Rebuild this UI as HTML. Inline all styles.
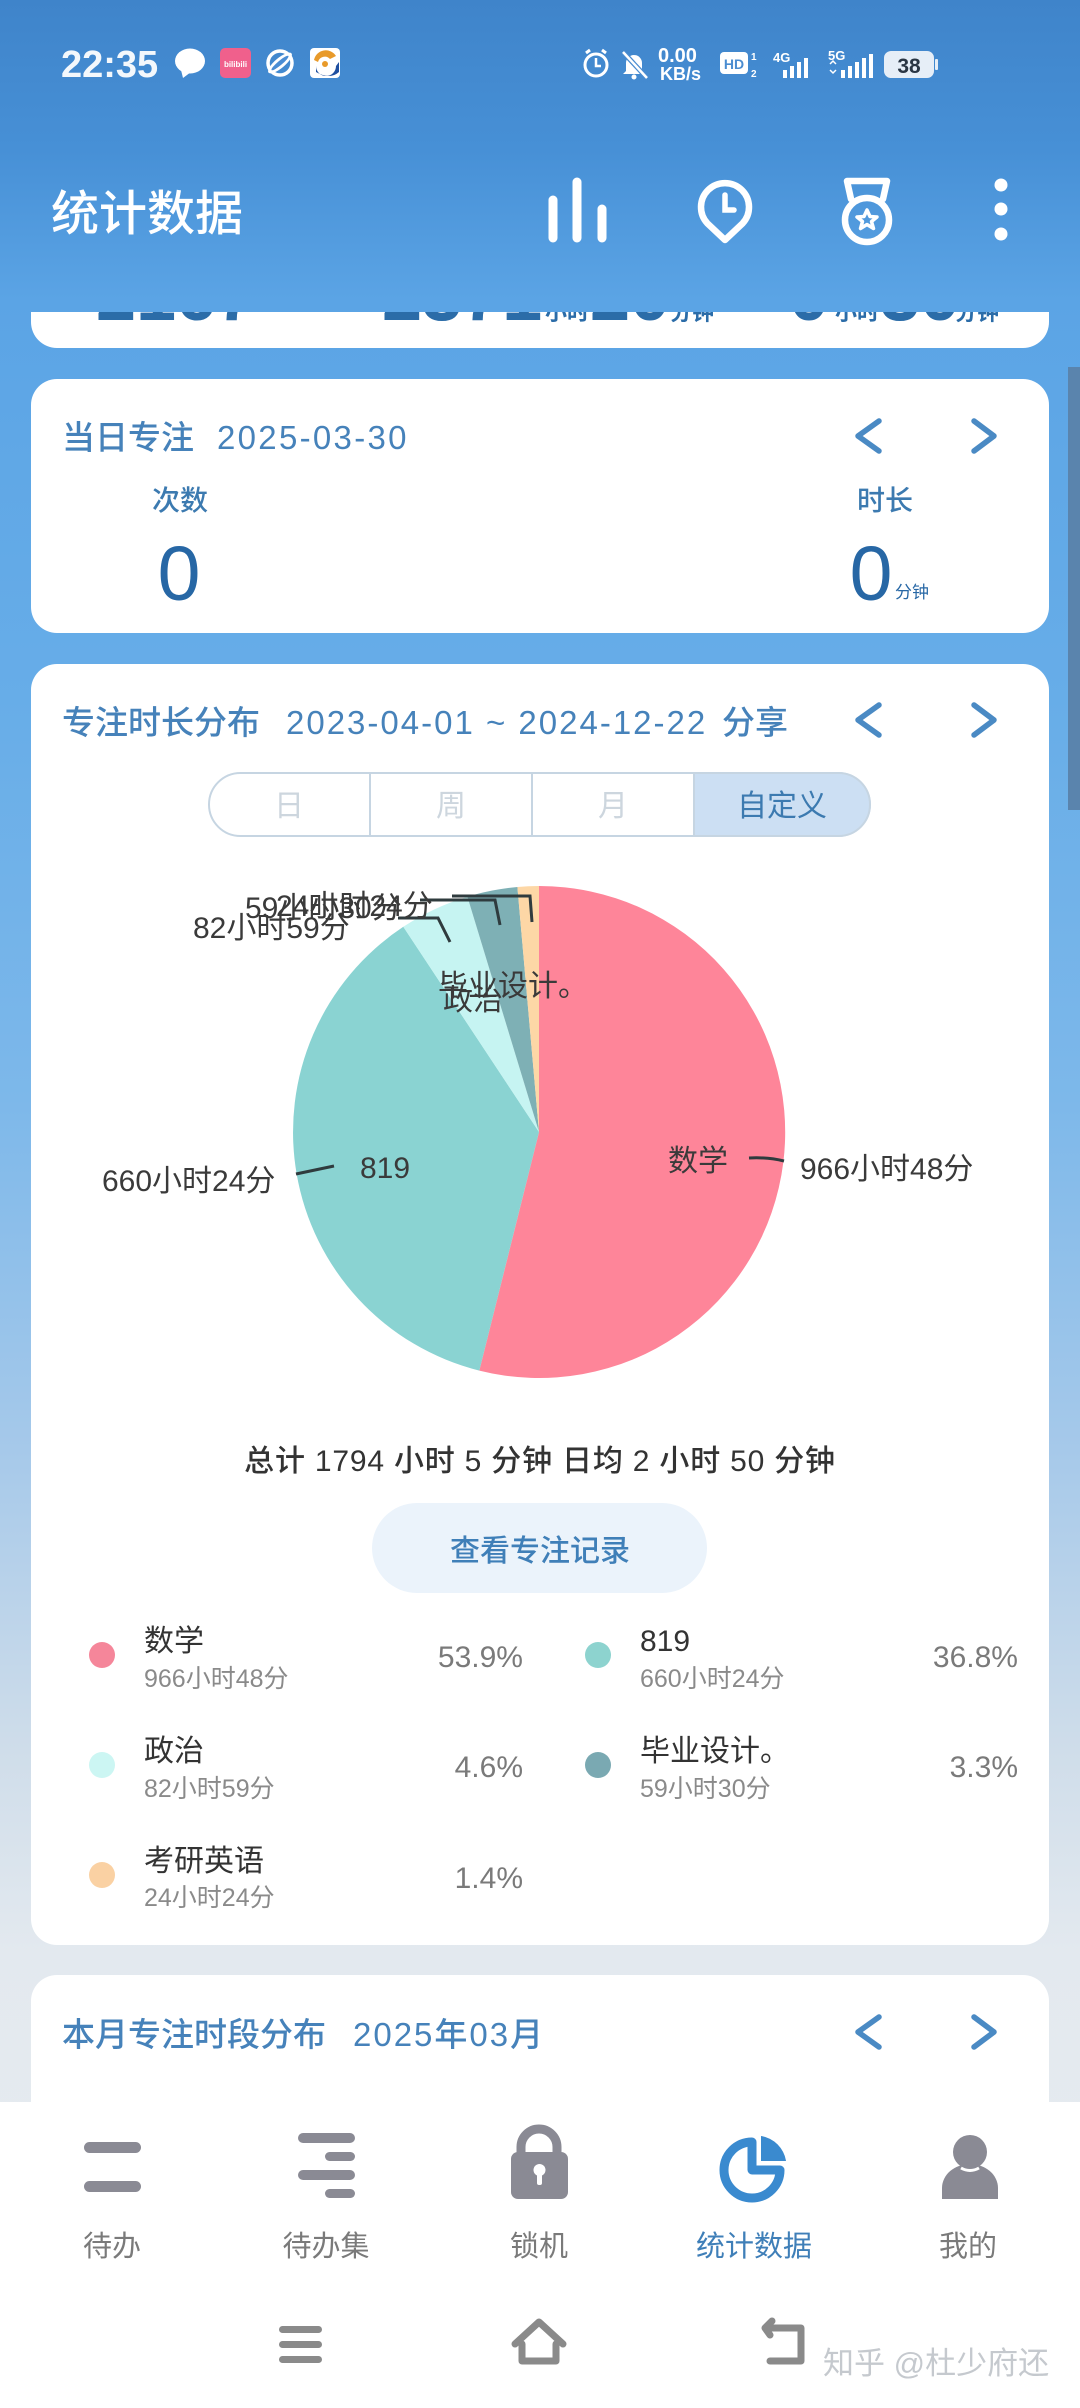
<!DOCTYPE html>
<html><head><meta charset="utf-8">
<style>
*{margin:0;padding:0;box-sizing:border-box}
html,body{width:1080px;height:2408px;overflow:hidden}
body{position:relative;font-family:"Liberation Sans","Noto Sans CJK SC",sans-serif;
background:linear-gradient(180deg,#3F84CA 0px,#4790D6 150px,#5BA4E5 300px,#67ADE8 700px,#7DB8EA 1100px,#A6C9EA 1450px,#CFDDEA 1750px,#E3E9EF 1950px,#E8ECF0 2408px)}
svg{position:absolute;left:0;top:0}
</style></head><body>
<svg width="1080" height="2408" viewBox="0 0 1080 2408" font-family="Liberation Sans, Noto Sans CJK SC, sans-serif">
<defs>
<clipPath id="c1"><path d="M31,312 H1049 V322 A26,26 0 0 1 1023,348 H57 A26,26 0 0 1 31,322 Z"/></clipPath>
<clipPath id="seg"><rect x="208" y="772" width="663" height="65" rx="32.5"/></clipPath>
</defs>

<!-- scrollbar -->
<rect x="1068" y="367" width="12" height="443" fill="#5A84AD"/>

<!-- STATUS BAR -->
<text x="61" y="77" font-size="38" font-weight="bold" fill="#F4F8FC">22:35</text>
<ellipse cx="190" cy="61" rx="15" ry="12.5" fill="#fff"/>
<path d="M181,70 L183,78 L191,72 Z" fill="#fff"/>
<rect x="220" y="48" width="31" height="30" rx="5" fill="#F0608C"/>
<text x="235.5" y="67" font-size="8" fill="#fff" text-anchor="middle" font-weight="bold">bilibili</text>
<circle cx="280" cy="63" r="12" fill="none" stroke="#fff" stroke-width="3.5"/>
<ellipse cx="280" cy="63" rx="15" ry="5" fill="#fff" transform="rotate(-40 280 63)"/>
<ellipse cx="280" cy="63" rx="11" ry="2.2" fill="#4A8DD4" transform="rotate(-40 280 63)"/>
<rect x="310" y="48" width="30" height="30" rx="4" fill="#fff"/>
<path d="M314,60 A12,12 0 0 1 336,56 L330,59 A7,7 0 0 0 318,62 Z" fill="#E89A2A"/>
<path d="M316,66 A10,10 0 0 0 336,66 L339,62 L339,72 Q330,80 316,72 Z" fill="#1E4FA0"/>
<circle cx="325" cy="64" r="3" fill="#E89A2A"/>

<g fill="none" stroke="#fff" stroke-width="3">
<circle cx="596" cy="65" r="11"/>
<path d="M596,58 V66 H601" stroke-width="2.5"/>
<path d="M586,53 L590,50 M606,53 L602,50"/>
</g>
<path d="M626,71 V63 A8,8 0 0 1 642,63 V71 L645,74 H623 Z" fill="#fff"/>
<circle cx="634" cy="77" r="2.5" fill="#fff"/>
<path d="M623,52 L647,78" stroke="#4A8CD0" stroke-width="5"/>
<path d="M623,52 L647,78" stroke="#fff" stroke-width="2.5"/>
<text x="658" y="62" font-size="20" font-weight="bold" fill="#fff">0.00</text>
<text x="660" y="80" font-size="18" font-weight="bold" fill="#fff">KB/s</text>
<rect x="720" y="52" width="28" height="22" rx="4" fill="#fff"/>
<text x="734" y="69" font-size="14" font-weight="bold" fill="#4A8CD0" text-anchor="middle">HD</text>
<text x="751" y="60" font-size="10" font-weight="bold" fill="#fff">1</text>
<text x="751" y="77" font-size="10" font-weight="bold" fill="#fff">2</text>
<text x="773" y="62" font-size="13" font-weight="bold" fill="#fff">4G</text>
<g fill="#fff">
<rect x="783" y="70" width="4" height="8"/><rect x="790" y="66" width="4" height="12"/><rect x="797" y="62" width="4" height="16"/><rect x="804" y="58" width="4" height="20"/>
</g>
<text x="828" y="60" font-size="13" font-weight="bold" fill="#fff">5G</text>
<path d="M830,64 L833,61 L836,64 M830,70 L833,73 L836,70" stroke="#fff" stroke-width="1.5" fill="none"/>
<g fill="#fff">
<rect x="841" y="70" width="4" height="8"/><rect x="848" y="66" width="4" height="12"/><rect x="855" y="62" width="4" height="16"/><rect x="862" y="58" width="4" height="20"/><rect x="869" y="54" width="4" height="24"/>
</g>
<rect x="884" y="51" width="50" height="27" rx="7" fill="#E6EEF7"/>
<rect x="935" y="59" width="3" height="11" rx="1" fill="#E6EEF7"/>
<text x="909" y="73" font-size="21" font-weight="bold" fill="#2A3644" text-anchor="middle">38</text>

<!-- HEADER -->
<text x="51" y="230" font-size="48" font-weight="500" fill="#FFFFFF">统计数据</text>
<g stroke="#fff" stroke-linecap="round" fill="none">
<line x1="553" y1="200" x2="553" y2="238" stroke-width="9"/>
<line x1="577" y1="182" x2="577" y2="238" stroke-width="9"/>
<line x1="602" y1="209" x2="602" y2="238" stroke-width="9"/>
<path d="M725,240 L707.5,223.5 A24,24 0 1,1 742.5,223.5 Z" stroke-width="6.5" stroke-linejoin="round"/>
<path d="M725,195 V210 H734" stroke-width="5.5"/>
<path d="M851,199 L847,181 H887 L883,199" stroke-width="6.5" stroke-linejoin="round"/>
<circle cx="867" cy="220" r="22" stroke-width="6.5"/>
<path d="M867,210 L870,216.5 L877,217 L871.5,221.5 L873.5,228.5 L867,224.5 L860.5,228.5 L862.5,221.5 L857,217 L864,216.5 Z" stroke-width="3.5" stroke-linejoin="round"/>
</g>
<g fill="#fff">
<circle cx="1001" cy="185" r="6.5"/><circle cx="1001" cy="209" r="6.5"/><circle cx="1001" cy="234" r="6.5"/>
</g>

<!-- CARD 1 partial -->
<path d="M31,312 H1049 V322 A26,26 0 0 1 1023,348 H57 A26,26 0 0 1 31,322 Z" fill="#fff"/>
<g clip-path="url(#c1)" fill="#2B6CA8" font-weight="bold">
<text x="96" y="320" font-size="72">2167</text>
<text x="382" y="320" font-size="72">2371</text>
<text x="545" y="320" font-size="22">小时</text>
<text x="590" y="320" font-size="72">20</text>
<text x="670" y="320" font-size="22">分钟</text>
<text x="789" y="320" font-size="72">0</text>
<text x="835" y="320" font-size="22">小时</text>
<text x="880" y="320" font-size="72">30</text>
<text x="955" y="320" font-size="22">分钟</text>
</g>

<!-- CARD 2 -->
<rect x="31" y="379" width="1018" height="254" rx="26" fill="#fff"/>
<text x="62" y="449" font-size="33" font-weight="500" fill="#4682BA">当日专注</text>
<text x="217" y="449" font-size="33" font-weight="500" fill="#4682BA" letter-spacing="2.3">2025-03-30</text>
<g stroke="#4A8AC4" stroke-width="5.5" fill="none" stroke-linecap="round" stroke-linejoin="round">
<polyline points="879,421 858,436 879,451"/>
<polyline points="974,421 994,436 974,451"/>
</g>
<text x="180" y="510" font-size="28" fill="#3C7AB0" text-anchor="middle" font-weight="500">次数</text>
<text x="885" y="510" font-size="28" fill="#3C7AB0" text-anchor="middle" font-weight="500">时长</text>
<text x="179" y="600" font-size="77" fill="#2767A5" text-anchor="middle">0</text>
<text x="871" y="600" font-size="77" fill="#2767A5" text-anchor="middle">0</text>
<text x="895" y="598" font-size="17" fill="#2767A5">分钟</text>

<!-- CARD 3 -->
<rect x="31" y="664" width="1018" height="1281" rx="26" fill="#fff"/>
<text x="62" y="734" font-size="33" font-weight="500" fill="#4682BA">专注时长分布</text>
<text x="286" y="734" font-size="33" font-weight="500" fill="#4682BA" letter-spacing="2">2023-04-01 ~ 2024-12-22</text>
<text x="722" y="734" font-size="33" font-weight="500" fill="#4682BA">分享</text>
<g stroke="#4A8AC4" stroke-width="5.5" fill="none" stroke-linecap="round" stroke-linejoin="round">
<polyline points="879,705 858,720 879,735"/>
<polyline points="974,705 994,720 974,735"/>
</g>
<g clip-path="url(#seg)">
<rect x="208" y="772" width="663" height="65" fill="#fff"/>
<rect x="694" y="772" width="177" height="65" fill="#CCDFF3"/>
</g>
<rect x="209" y="773" width="661" height="63" rx="31.5" fill="none" stroke="#C6D5E2" stroke-width="2"/>
<g stroke="#C6D5E2" stroke-width="2">
<line x1="370" y1="773" x2="370" y2="836"/><line x1="532" y1="773" x2="532" y2="836"/><line x1="694" y1="773" x2="694" y2="836"/>
</g>
<g font-size="30" text-anchor="middle">
<text x="289" y="816" fill="#CDD6DE">日</text>
<text x="451" y="816" fill="#CDD6DE">周</text>
<text x="613" y="816" fill="#CDD6DE">月</text>
<text x="782" y="816" fill="#3C7AB0">自定义</text>
</g>

<!-- PIE -->
<path d="M539,1132 L539,886 A246,246 0 1,1 479.3,1370.6 Z" fill="#FE8599"/>
<path d="M539,1132 L479.3,1370.6 A246,246 0 0,1 403.3,926.8 Z" fill="#8AD3D2"/>
<path d="M539,1132 L403.3,926.8 A246,246 0 0,1 467.4,896.7 Z" fill="#C6F4F2"/>
<path d="M539,1132 L467.4,896.7 A246,246 0 0,1 517.4,887 Z" fill="#7EB0B5"/>
<path d="M539,1132 L517.4,887 A246,246 0 0,1 539,886 Z" fill="#FDD7A6"/>

<g stroke="#2F3B3E" stroke-width="3" fill="none">
<path d="M749,1158 Q768,1157 784,1161"/>
<path d="M296,1174 L334,1166"/>
<path d="M398,918 L438,918 L450,942"/>
<path d="M420,900 L495,900 L500,925"/>
<path d="M452,896 L530,896 L532,922"/>
</g>
<g font-size="30" fill="#3A3A3A">
<text x="800" y="1179">966小时48分</text>
<text x="668" y="1171">数学</text>
<text x="102" y="1191">660小时24分</text>
<text x="360" y="1178">819</text>
<text x="193" y="938">82小时59分</text>
<text x="245" y="918">59小时30分</text>
<text x="276" y="916">24小时24分</text>
<text x="438" y="996">毕业设计。</text>
<text x="443" y="1010">政治</text>
</g>

<!-- summary -->
<text x="540" y="1471" font-size="30" font-weight="500" fill="#333" text-anchor="middle" letter-spacing="0.8">总计 1794 小时 5 分钟 日均 2 小时 50 分钟</text>
<rect x="372" y="1503" width="335" height="90" rx="45" fill="#EBF3FB"/>
<text x="540" y="1561" font-size="30" fill="#3F7FB8" text-anchor="middle" font-weight="500">查看专注记录</text>

<!-- legend -->
<circle cx="102" cy="1655" r="13" fill="#F5869A"/>
<text x="144" y="1651" font-size="30" fill="#333">数学</text>
<text x="144" y="1687" font-size="25" fill="#8A8A8A">966小时48分</text>
<text x="523" y="1667" font-size="30" fill="#7A7A7A" text-anchor="end">53.9%</text>

<circle cx="598" cy="1655" r="13" fill="#8DD3CF"/>
<text x="640" y="1651" font-size="30" fill="#333">819</text>
<text x="640" y="1687" font-size="25" fill="#8A8A8A">660小时24分</text>
<text x="1018" y="1667" font-size="30" fill="#7A7A7A" text-anchor="end">36.8%</text>

<circle cx="102" cy="1765" r="13" fill="#CCF6F3"/>
<text x="144" y="1761" font-size="30" fill="#333">政治</text>
<text x="144" y="1797" font-size="25" fill="#8A8A8A">82小时59分</text>
<text x="523" y="1777" font-size="30" fill="#7A7A7A" text-anchor="end">4.6%</text>

<circle cx="598" cy="1765" r="13" fill="#7AA9B2"/>
<text x="640" y="1761" font-size="30" fill="#333">毕业设计。</text>
<text x="640" y="1797" font-size="25" fill="#8A8A8A">59小时30分</text>
<text x="1018" y="1777" font-size="30" fill="#7A7A7A" text-anchor="end">3.3%</text>

<circle cx="102" cy="1875" r="13" fill="#FAD1A3"/>
<text x="144" y="1871" font-size="30" fill="#333">考研英语</text>
<text x="144" y="1906" font-size="25" fill="#8A8A8A">24小时24分</text>
<text x="523" y="1888" font-size="30" fill="#7A7A7A" text-anchor="end">1.4%</text>

<!-- CARD 4 -->
<rect x="31" y="1975" width="1018" height="200" rx="26" fill="#fff"/>
<text x="62" y="2046" font-size="33" font-weight="500" fill="#4682BA">本月专注时段分布</text>
<text x="353" y="2046" font-size="33" font-weight="500" fill="#4682BA" letter-spacing="2">2025年03月</text>
<g stroke="#4A8AC4" stroke-width="5.5" fill="none" stroke-linecap="round" stroke-linejoin="round">
<polyline points="879,2017 858,2032 879,2047"/>
<polyline points="974,2017 994,2032 974,2047"/>
</g>

<!-- BOTTOM NAV -->
<rect x="0" y="2102" width="1080" height="306" fill="#FFFFFF"/>
<g fill="#8A8A94">
<rect x="84" y="2142" width="57" height="11" rx="5.5"/>
<rect x="84" y="2181" width="57" height="11" rx="5.5"/>
<rect x="298" y="2133" width="57" height="10" rx="5"/>
<rect x="325" y="2152" width="30" height="9" rx="4.5"/>
<rect x="298" y="2170" width="57" height="10" rx="5"/>
<rect x="325" y="2189" width="30" height="9" rx="4.5"/>
<rect x="511" y="2152" width="57" height="47" rx="7"/>
<circle cx="970" cy="2152" r="17"/>
<path d="M942,2199 V2188 A28,24 0 0 1 998,2188 V2199 Z"/>
</g>
<path d="M521,2154 V2147 A18,18 0 0 1 557,2147 V2154" stroke="#8A8A94" stroke-width="9" fill="none"/>
<circle cx="539.5" cy="2170" r="6" fill="#fff"/>
<rect x="537" y="2172" width="5" height="13" rx="2" fill="#fff"/>
<path d="M961,2168 Q970,2173 979,2168" stroke="#fff" stroke-width="3" fill="none"/>
<path d="M752,2142 A28,28 0 1,0 780,2170 L752,2170 Z" stroke="#3A8ACF" stroke-width="9" fill="none" stroke-linejoin="round"/>
<path d="M761,2136 A30,30 0 0,1 786,2161 L761,2161 Z" fill="#3A8ACF"/>

<g font-size="29" text-anchor="middle" fill="#7A7A7A">
<text x="112" y="2256">待办</text>
<text x="326" y="2256">待办集</text>
<text x="539" y="2256">锁机</text>
<text x="754" y="2256" fill="#3F7FB8">统计数据</text>
<text x="968" y="2256">我的</text>
</g>

<g fill="#8A8A8A">
<rect x="279" y="2326" width="43" height="7" rx="3.5"/>
<rect x="279" y="2341" width="43" height="7" rx="3.5"/>
<rect x="279" y="2356" width="43" height="7" rx="3.5"/>
</g>
<g stroke="#8A8A8A" stroke-width="7" fill="none" stroke-linecap="round" stroke-linejoin="round">
<path d="M515,2344 L539,2322 L563,2344"/>
<path d="M522,2344 V2361 H556 V2344"/>
<path d="M770,2328 H801 V2361 H770"/>
<path d="M772,2321 L765,2328 L770,2335"/>
</g>
<text x="823" y="2374" font-size="31" fill="#C5C9CE">知乎 @杜少府还</text>
</svg>
</body></html>
